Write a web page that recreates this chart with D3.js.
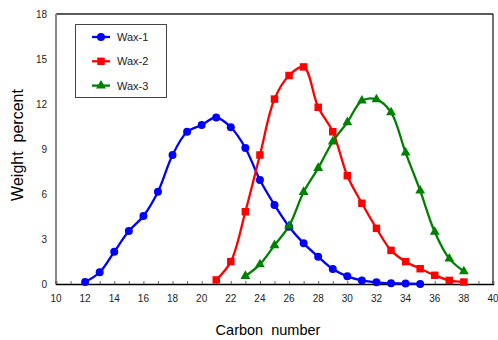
<!DOCTYPE html>
<html>
<head>
<meta charset="utf-8">
<script src="https://cdn.jsdelivr.net/npm/d3@7"></script>
<style>
	body { margin: 0; background: #fff; }
	svg { display: block; font-family: "Liberation Sans", Arial, sans-serif; }
</style>
</head>
<body>
<svg id="chart" width="498" height="340"></svg>
<script>
// carbon numbers per series
const wax1Carbon = [12, 13, 14, 15, 16, 17, 18, 19, 20, 21, 22, 23, 24, 25, 26, 27, 28, 29, 30, 31, 32, 33, 34, 35];
const wax1Values = [0.13, 0.78, 2.15, 3.53, 4.53, 6.15, 8.6, 10.15, 10.6, 11.1, 10.45, 9.07, 6.93, 5.27, 3.82, 2.71, 1.82, 1.0, 0.51, 0.24, 0.11, 0.05, 0.03, 0.0];

const wax2Carbon = [21, 22, 23, 24, 25, 26, 27, 28, 29, 30, 31, 32, 33, 34, 35, 36, 37, 38];
const wax2Values = [0.27, 1.49, 4.82, 8.6, 12.33, 13.9, 14.47, 11.78, 10.15, 7.22, 5.38, 3.71, 2.24, 1.49, 1.02, 0.58, 0.24, 0.13];

const wax3Carbon = [23, 24, 25, 26, 27, 28, 29, 30, 31, 32, 33, 34, 35, 36, 37, 38];
const wax3Values = [0.53, 1.31, 2.58, 3.87, 6.13, 7.73, 9.49, 10.78, 12.22, 12.31, 11.44, 8.76, 6.22, 3.47, 1.69, 0.84];

const xTickLabels = [10, 12, 14, 16, 18, 20, 22, 24, 26, 28, 30, 32, 34, 36, 38, 40];
const yTickLabels = [0, 3, 6, 9, 12, 15, 18];

const seriesNames = ["Wax-1", "Wax-2", "Wax-3"];
const seriesColors = ["#0000ff", "#ff0000", "#008000"];
const seriesShapes = ["circle", "square", "triangle"];

const margin = { top: 14, right: 5, bottom: 56, left: 56 };
const width = 498, height = 340;

const svg = d3.select("#chart");

const x = d3.scaleLinear().domain([10, 40]).range([margin.left, width - margin.right]);
const y = d3.scaleLinear().domain([0, 18]).range([height - margin.bottom, margin.top]);

const series = [
	{ carbon: wax1Carbon, values: wax1Values },
	{ carbon: wax2Carbon, values: wax2Values },
	{ carbon: wax3Carbon, values: wax3Values }
].map((s, i) => ({
	name: seriesNames[i],
	color: seriesColors[i],
	shape: seriesShapes[i],
	points: s.carbon.map((c, j) => [c, s.values[j]])
}));

// plot frame: top and right black, left grey
svg.append("line")
	.attr("x1", x(10)).attr("x2", x(40))
	.attr("y1", y(18)).attr("y2", y(18))
	.attr("stroke", "#222").attr("stroke-width", 1.3);
svg.append("line")
	.attr("x1", x(40)).attr("x2", x(40))
	.attr("y1", y(18)).attr("y2", y(0))
	.attr("stroke", "#222").attr("stroke-width", 1.3);
svg.append("line")
	.attr("x1", x(10)).attr("x2", x(10))
	.attr("y1", y(18)).attr("y2", y(0))
	.attr("stroke", "#888").attr("stroke-width", 2);

// x axis with inward minor ticks each unit
const xAxis = svg.append("g")
	.attr("transform", `translate(0,${y(0)})`)
	.call(d3.axisBottom(x)
		.tickValues(d3.range(10, 41, 1))
		.tickSize(-3)
		.tickPadding(0)
		.tickFormat(() => ""));
xAxis.select(".domain").attr("stroke", "#000").attr("stroke-width", 1.5);
xAxis.selectAll(".tick line").attr("stroke", "#666");

svg.append("g")
	.selectAll("text")
	.data(xTickLabels)
	.join("text")
	.attr("x", d => x(d))
	.attr("y", y(0) + 18)
	.attr("text-anchor", "middle")
	.attr("font-size", 10)
	.attr("fill", "#222")
	.text(d => d);

// y axis labels (no tick marks)
svg.append("g")
	.selectAll("text")
	.data(yTickLabels)
	.join("text")
	.attr("x", x(10) - 9)
	.attr("y", d => y(d) + 3.5)
	.attr("text-anchor", "end")
	.attr("font-size", 10)
	.attr("fill", "#222")
	.text(d => d);

// axis titles
svg.append("text")
	.attr("x", 268)
	.attr("y", 335)
	.attr("text-anchor", "middle")
	.attr("font-size", 14.5)
	.attr("fill", "#000")
	.attr("xml:space", "preserve")
	.text("Carbon  number");

svg.append("text")
	.attr("transform", "translate(23,145) rotate(-90)")
	.attr("text-anchor", "middle")
	.attr("font-size", 16)
	.attr("fill", "#000")
	.attr("xml:space", "preserve")
	.text("Weight  percent");

const line = d3.line()
	.x(d => x(d[0]))
	.y(d => y(d[1]))
	.curve(d3.curveCatmullRom.alpha(0.5));

const symbolFor = {
	circle: d3.symbol().type(d3.symbolCircle).size(50),
	square: d3.symbol().type(d3.symbolSquare).size(56),
	triangle: d3.symbol().type(d3.symbolTriangle).size(42)
};

const g = svg.append("g");

series.forEach(s => {
	g.append("path")
		.datum(s.points)
		.attr("fill", "none")
		.attr("stroke", s.color)
		.attr("stroke-width", 2.3)
		.attr("d", line);
});

series.forEach(s => {
	g.append("g")
		.selectAll("path")
		.data(s.points)
		.join("path")
		.attr("transform", d => `translate(${x(d[0])},${y(d[1])})`)
		.attr("d", symbolFor[s.shape]())
		.attr("fill", s.color);
});

// legend
const legend = svg.append("g").attr("transform", "translate(75,24)");
legend.append("rect")
	.attr("x", 0.5).attr("y", 0.5)
	.attr("width", 91).attr("height", 73)
	.attr("fill", "#fff")
	.attr("stroke", "#444")
	.attr("stroke-width", 1);

const item = legend.selectAll("g.item")
	.data(series)
	.join("g")
	.attr("class", "item")
	.attr("transform", (d, i) => `translate(0,${13 + i * 24.3})`);

item.append("line")
	.attr("x1", 17).attr("x2", 35)
	.attr("y1", 0).attr("y2", 0)
	.attr("stroke", d => d.color)
	.attr("stroke-width", 2.3);
item.append("path")
	.attr("transform", "translate(26,0)")
	.attr("d", d => symbolFor[d.shape]())
	.attr("fill", d => d.color);
item.append("text")
	.attr("x", 42)
	.attr("y", 4)
	.attr("font-size", 11)
	.attr("fill", "#222")
	.text(d => d.name);
</script>
</body>
</html>
